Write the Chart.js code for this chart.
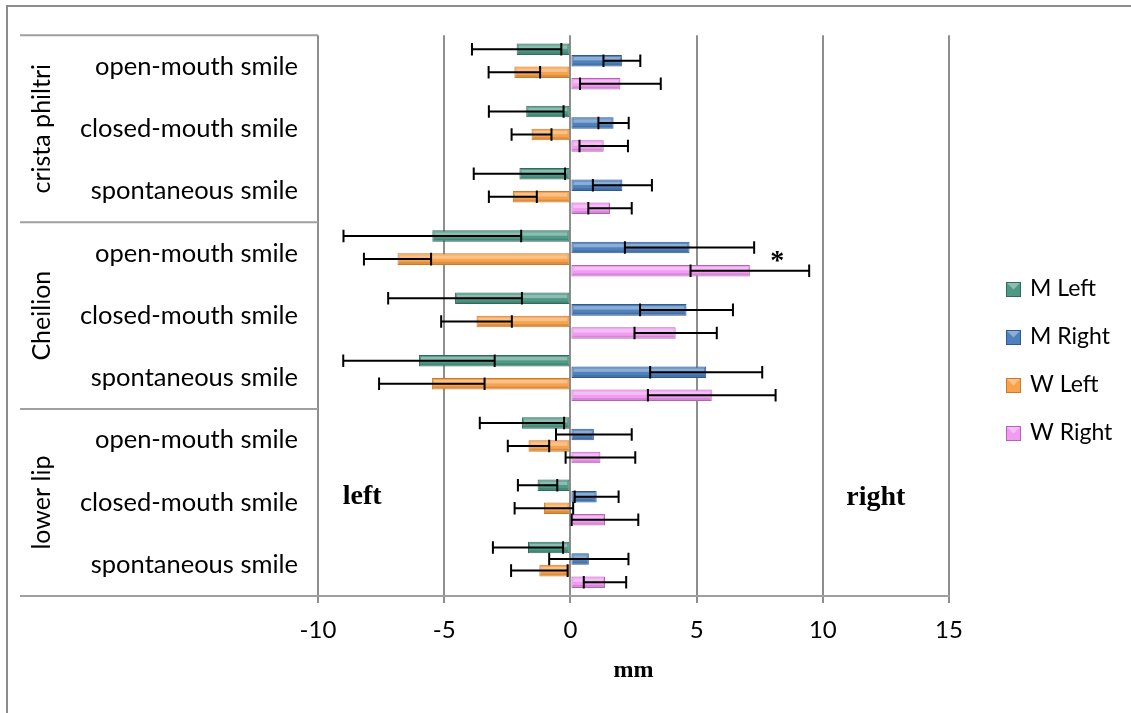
<!DOCTYPE html>
<html>
<head>
<meta charset="utf-8">
<script src="https://cdn.jsdelivr.net/npm/chart.js@4.4.0/dist/chart.umd.min.js"></script>
<style>
  html, body { margin: 0; padding: 0; background: #fff; }
  #wrap { width: 1131px; height: 713px; }
</style>
</head>
<body>
<div id="wrap"><canvas id="chart" width="1131" height="713"></canvas></div>
<script>
const groups = ['crista philtri', 'Cheilion', 'lower lip'];
const smiles = ['open-mouth smile', 'closed-mouth smile', 'spontaneous smile'];
const categories = [
    'open-mouth smile', 'closed-mouth smile', 'spontaneous smile',
    'open-mouth smile', 'closed-mouth smile', 'spontaneous smile',
    'open-mouth smile', 'closed-mouth smile', 'spontaneous smile'
];
const seriesNames = ['M Left', 'M Right', 'W Left', 'W Right'];

// mean displacement (mm) and SD, per category top to bottom
const mLeft    = [-2.13, -1.75, -2.02, -5.47, -4.57, -6.00, -1.92, -1.30, -1.68];
const mLeftSd  = [ 1.77,  1.48,  1.81,  3.52,  2.65,  3.00,  1.67,  0.78,  1.39];
const mRight   = [ 2.04,  1.71,  2.06,  4.72,  4.60,  5.38,  0.93,  1.04,  0.73];
const mRightSd = [ 0.73,  0.60,  1.17,  2.56,  1.84,  2.22,  1.50,  0.87,  1.57];
const wLeft    = [-2.22, -1.54, -2.28, -6.85, -3.72, -5.49, -1.66, -1.05, -1.23];
const wLeftSd  = [ 1.02,  0.79,  0.95,  1.33,  1.40,  2.09,  0.82,  1.16,  1.12];
const wRight   = [ 1.98,  1.32,  1.57,  7.11,  4.17,  5.60,  1.19,  1.37,  1.37];
const wRightSd = [ 1.60,  0.96,  0.86,  2.35,  1.63,  2.53,  1.38,  1.32,  0.84];

const xTicks = [-10, -5, 0, 5, 10, 15];

const fills   = ['#4f9a86', '#4f81bd', '#f7a24c', '#f29bf2'];
const borders = ['#35695b', '#2f5a8e', '#c97a2a', '#b563b5'];
const sds = [mLeftSd, mRightSd, wLeftSd, wRightSd];

const labelFont = 'Lato, "Open Sans", sans-serif';
const serifFont = '"Liberation Serif", "Times New Roman", serif';

const barExtras = {
    id: 'barExtras',
    beforeDraw(chart) {
        const c = chart.ctx;
        c.save();
        c.fillStyle = '#fff';
        c.fillRect(0, 0, chart.width, chart.height);
        c.strokeStyle = '#8c8c8c';
        c.lineWidth = 2;
        c.beginPath();
        c.moveTo(7, 714);
        c.lineTo(7, 6);
        c.lineTo(1132, 6);
        c.stroke();
        c.restore();
    },
    afterDatasetsDraw(chart) {
        const c = chart.ctx;
        const xs = chart.scales.x;
        c.save();
        // bevel highlight
        chart.data.datasets.forEach((ds, i) => {
            chart.getDatasetMeta(i).data.forEach(bar => {
                const p = bar.getProps(['x', 'y', 'base', 'height'], true);
                const l = Math.min(p.x, p.base), r = Math.max(p.x, p.base);
                const t = p.y - p.height / 2;
                c.fillStyle = 'rgba(255,255,255,0.35)';
                c.fillRect(l + 2, t + 2, r - l - 4, p.height * 0.3);
                c.fillStyle = 'rgba(0,0,0,0.12)';
                c.fillRect(l + 1, t + p.height - 3, r - l - 2, 2);
            });
        });
        // error bars
        c.strokeStyle = '#000';
        c.lineWidth = 2;
        chart.data.datasets.forEach((ds, i) => {
            chart.getDatasetMeta(i).data.forEach((bar, j) => {
                const v = ds.data[j], sd = sds[i][j];
                const y = bar.y, h = bar.height / 2 + 0.5;
                const x1 = xs.getPixelForValue(v - sd), x2 = xs.getPixelForValue(v + sd);
                c.beginPath();
                c.moveTo(x1, y); c.lineTo(x2, y);
                c.moveTo(x1, y - h); c.lineTo(x1, y + h);
                c.moveTo(x2, y - h); c.lineTo(x2, y + h);
                c.stroke();
            });
        });
        c.restore();
    },
    afterDraw(chart) {
        const c = chart.ctx;
        const ys = chart.scales.y, xs = chart.scales.x;
        const a = chart.chartArea;
        c.save();
        // group frame lines
        c.strokeStyle = '#a0a0a0';
        c.lineWidth = 2;
        const step = ys.getPixelForValue(1) - ys.getPixelForValue(0);
        const lines = [a.top, ys.getPixelForValue(2) + step / 2, ys.getPixelForValue(5) + step / 2, a.bottom];
        c.beginPath();
        lines.forEach(y => { c.moveTo(20, y); c.lineTo(a.left, y); });
        c.stroke();
        // rotated group labels
        c.fillStyle = '#000';
        c.font = '25px ' + labelFont;
        c.textAlign = 'center';
        c.textBaseline = 'middle';
        groups.forEach((g, k) => {
            const yc = (lines[k] + lines[k + 1]) / 2;
            c.save();
            c.translate(42, yc);
            c.rotate(-Math.PI / 2);
            c.fillText(g, 0, 0);
            c.restore();
        });
        // annotations
        c.font = 'bold 28px ' + serifFont;
        c.textBaseline = 'alphabetic';
        c.fillText('left', xs.getPixelForValue(-8.25), ys.getPixelForValue(7) + 1);
        c.fillText('right', xs.getPixelForValue(12.1), ys.getPixelForValue(7) + 2);
        c.fillText('*', xs.getPixelForValue(8.2), ys.getPixelForValue(3) + 16);
        // legend
        c.textAlign = 'left';
        c.textBaseline = 'middle';
        c.font = '23px ' + labelFont;
        seriesNames.forEach((name, i) => {
            const y = 289 + i * 48;
            c.fillStyle = fills[i];
            c.fillRect(1006, y - 7, 15, 15);
            c.fillStyle = 'rgba(255,255,255,0.35)';
            c.beginPath();
            c.moveTo(1006, y - 7); c.lineTo(1021, y - 7); c.lineTo(1013.5, y + 0.5);
            c.fill();
            c.strokeStyle = borders[i];
            c.lineWidth = 1;
            c.strokeRect(1006.5, y - 6.5, 14, 14);
            c.fillStyle = '#000';
            c.fillText(name, 1030, y);
        });
        c.restore();
    }
};

const datasets = [mLeft, mRight, wLeft, wRight].map((vals, i) => ({
    label: seriesNames[i],
    data: vals,
    backgroundColor: fills[i],
    borderColor: borders[i],
    borderWidth: 1,
    borderSkipped: false,
    categoryPercentage: 0.74,
    barPercentage: 1.0
}));

new Chart(document.getElementById('chart'), {
    type: 'bar',
    data: { labels: categories, datasets: datasets },
    options: {
        indexAxis: 'y',
        responsive: false,
        animation: false,
        layout: { padding: { left: 0, top: 35, right: 182, bottom: 0 } },
        plugins: { legend: { display: false }, tooltip: { enabled: false } },
        scales: {
            x: {
                min: -10,
                max: 15,
                afterBuildTicks: s => { s.ticks = xTicks.map(v => ({ value: v })); },
                afterFit: s => { s.height = 117; },
                grid: { color: '#8e8e8e', lineWidth: 2, tickLength: 7, tickColor: '#8e8e8e' },
                border: { display: true, color: '#a0a0a0', width: 2 },
                ticks: { color: '#000', font: { family: labelFont, size: 24 }, padding: 13 },
                title: {
                    display: true, text: 'mm', color: '#000',
                    font: { family: serifFont, size: 24, weight: 'bold' },
                    padding: { top: 0, bottom: 28 }
                }
            },
            y: {
                afterFit: s => { s.width = 318; },
                grid: { display: false, drawTicks: false },
                border: { display: false },
                ticks: { color: '#000', font: { family: labelFont, size: 25.5 }, padding: 20 }
            }
        }
    },
    plugins: [barExtras]
});
</script>
</body>
</html>
